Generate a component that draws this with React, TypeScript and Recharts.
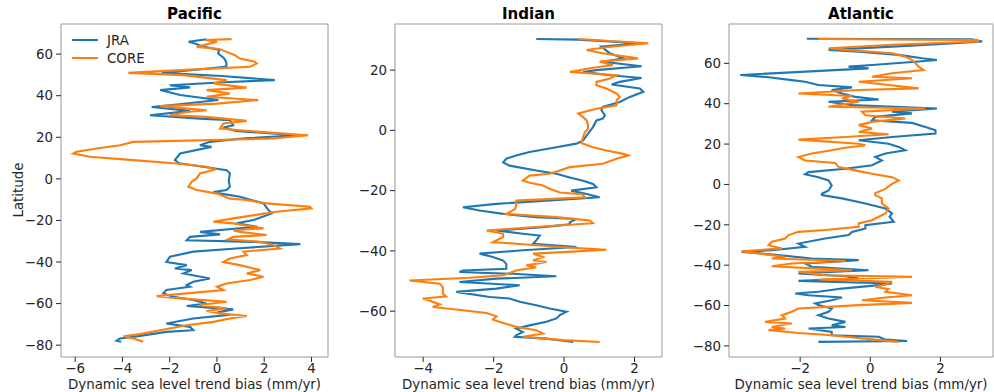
import React from "react";
import { ReferenceArea, Scatter, ScatterChart, XAxis, YAxis } from "recharts";

// [latitude, bias] pairs, north to south
const PACIFIC_JRA: [number, number][] = [
  [67.2, -0.44], [66, -1.2], [65, -0.9], [64, -0.7], [62, 0.1], [60.3, 0.05], [58, 0.3], [56, 0.4], [54, 0.4],
  [53, -0.44], [51, -2.34], [49.5, 0.2], [47.5, 2.45], [46.5, 0.3], [45, -2.0], [44, -1.14], [42.7, -2.4],
  [40.3, -1.56], [37.9, 0.06], [36, -1.5], [34.6, -2.76], [32.7, -1.14], [30.6, -2.83], [29, -0.72],
  [28.2, 0.55], [25.8, 0.69], [24.7, 0.27], [23, 0.8], [21, 3.4], [19.5, 1.2], [17.8, -0.3], [16.2, -0.72],
  [15.4, -0.23], [12.2, -1.56], [9, -1.78], [7.5, -1.6], [4.2, 0.41], [2.6, 0.55], [-1, 0.5], [-3.8, 0.55],
  [-5.4, 0.41], [-6.3, -0.15], [-7, 0.1], [-8.6, 0.97], [-11.8, 1.97], [-15, 2.18], [-16.6, 2.32],
  [-19.8, 1.55], [-21.4, 0.83], [-23, 1.69], [-25.5, -0.72], [-26.7, 0.13], [-27.9, -1.14], [-29.5, -1.28],
  [-30.3, 1.55], [-31.4, 3.53], [-33.5, 0.83], [-35, -1.0], [-37.5, -1.99], [-40, -2.14], [-41.5, -1.28],
  [-43.1, -1.78], [-43.9, -1.07], [-45.5, -1.42], [-47.9, -0.3], [-49.5, -1.0], [-51.1, -1.28],
  [-51.9, -1.14], [-53.5, -2.14], [-55.1, -2.27], [-56.7, -1.85], [-58.3, -1.0], [-60, -0.44],
  [-61.2, -1.28], [-62.8, 0.69], [-64, 0.13], [-65.5, 0.41], [-67.2, -1.0], [-69.6, -2.14], [-71.2, -1.14],
  [-72.8, -1.0], [-73.6, -2.14], [-76, -3.54], [-76.8, -4.1], [-77.9, -4.25], [-78.4, -4.05],
];

const PACIFIC_CORE: [number, number][] = [
  [67.2, 0.62], [66.8, -0.5], [66, 0.0], [63.5, -0.86], [62.5, 0.1], [61.1, 0.41], [59.5, 0.76],
  [57.9, 0.97], [56.3, 1.6], [55.5, 1.68], [53.9, 1.4], [52.8, -0.72], [51, -3.75], [49.9, -1.42],
  [47.5, 0.41], [45.9, -0.15], [43.9, 1.26], [42.7, -0.44], [41.1, 0.55], [39.5, -0.44], [37.9, 1.75],
  [36.2, 0], [35, -2.4], [33, -0.44], [32.2, -1.28], [30.6, -1.99], [29.8, -0.44], [27.9, 1.26],
  [26.6, 0.27], [24.2, 0.13], [23.4, 0.97], [22.1, 2.38], [21, 3.86], [19.4, 2.38], [17.8, -3.54],
  [16.2, -4.1], [14.6, -5.09], [13, -5.94], [12.2, -6.08], [10.6, -5.37], [9, -3.54], [7.4, -1.71],
  [5.8, -0.44], [4.5, -0.08], [3.4, -0.44], [2.6, -0.72], [0.2, -0.86], [-1.4, -1.07], [-3.8, -1.21],
  [-5.4, -0.86], [-7.1, 0], [-9.5, 0.55], [-10.2, 1.26], [-11.8, 2.1], [-13.4, 3.93], [-14.2, 4.0],
  [-15.8, 2.52], [-19, 0.69], [-20.6, -0.15], [-21.4, 0.69], [-23, 1.55], [-23.8, 1.97], [-24.7, 0.69],
  [-25.5, 0.97], [-27, 2.1], [-27.9, 0.69], [-29.1, 0.48], [-30.3, 1.83], [-31.9, 2.38], [-33.5, 2.67],
  [-35, 1.12], [-36.7, 1.26], [-38.3, 0.55], [-40, 0.27], [-41.5, 0.97], [-43.1, 1.55], [-43.9, 1.83],
  [-45.5, 1.26], [-47.1, 1.97], [-48.7, 1.4], [-50.3, 0.41], [-51.9, 0], [-53.5, 0.27], [-55.1, -1.28],
  [-56.4, -2.55], [-57.5, -1.56], [-59.1, 0.41], [-60.7, -0.72], [-62.3, 0.41], [-63.6, -0.44],
  [-64.7, 0.13], [-66, 1.26], [-67.2, 0.55], [-68.8, -0.15], [-70.4, -1.28], [-72.8, -2.41],
  [-74.7, -3.26], [-75.7, -3.96], [-76.8, -3.54], [-78.4, -3.12],
];

const INDIAN_JRA: [number, number][] = [
  [30.3, -0.79], [30.1, 0.4], [28.9, 2.15], [27.8, 1.06], [25.6, 1.3], [23.9, 1.68], [22.8, 1.1],
  [21.3, 2.2], [20, 0.92], [19.4, 0.54], [18.3, 1.3], [17.4, 2.2], [16.1, 1.58], [15.2, 1.35],
  [13.9, 2.15], [12.8, 2.25], [11.1, 1.87], [9.4, 1.58], [7.8, 1.1], [6.7, 1.06], [5, 1.16], [3.9, 1.1],
  [3.3, 0.92], [1.1, 0.82], [-1.1, 0.68], [-3.3, 0.54], [-4.4, 0.35], [-5.6, -0.22], [-7.2, -0.98],
  [-8.3, -1.36], [-9.4, -1.64], [-10.6, -1.73], [-11.7, -1.55], [-13.3, -0.79], [-14.4, -0.22],
  [-15.6, 0.16], [-16.7, 0.54], [-17.8, 0.82], [-18.9, 0.92], [-20, 0.2], [-21.1, 0.64], [-22.2, 1.01],
  [-23.3, -0.5], [-24.4, -1.92], [-25.5, -2.87], [-26.6, -2.4], [-27.7, -1.73], [-28.8, -0.79],
  [-29.4, 0.35], [-30.5, 0.16], [-31.2, 0.16], [-32.1, -0.6], [-33.2, -1.92], [-34.3, -1.17],
  [-34.9, -0.69], [-36.5, -0.79], [-37.6, -0.88], [-38.7, 0.35], [-39.8, -1.17], [-40.9, -2.4],
  [-42, -2.02], [-43.2, -1.73], [-44.3, -1.64], [-45.9, -1.64], [-46.5, -2.87], [-47, -2.97],
  [-47.6, -1.45], [-48.4, -0.22], [-49.2, -1.92], [-50.3, -2.97], [-51.4, -1.26], [-52.5, -1.92],
  [-53.6, -3.06], [-55.3, -2.11], [-55.8, -1.55], [-56.9, -1.26], [-58, -0.79], [-59.1, -0.41],
  [-60.2, 0.07], [-61.3, -0.12], [-62.4, -0.22], [-63.5, -0.5], [-64.7, -0.98], [-65.8, -1.36],
  [-66.9, -1.17], [-68, -1.36], [-68.5, -1.4], [-69.1, -0.5], [-70.2, 0.26],
];

const INDIAN_CORE: [number, number][] = [
  [30.3, 0.4], [28.9, 2.39], [27.6, 1.2], [26.7, 0.64], [25.6, 1.1], [23.9, 2.1], [22.8, 1.01],
  [21.7, 1.39], [20.6, 0.73], [19.4, 0.16], [18.3, 1.49], [17.2, 1.3], [16.1, 0.92], [15, 0.92],
  [13.9, 1.2], [12.2, 1.49], [11.1, 1.58], [10, 1.49], [8.3, 1.49], [7.2, 0.92], [5.6, 0.4], [4.4, 0.54],
  [3.3, 0.64], [1.7, 0.68], [0.6, 0.68], [-0.6, 0.59], [-2.2, 0.54], [-4.2, 0.49], [-5.6, 0.82],
  [-6.7, 1.2], [-7.8, 1.68], [-8.3, 1.82], [-9.4, 1.49], [-11.1, 1.1], [-12.2, 0.16], [-13.3, -0.12],
  [-14.4, -0.41], [-15, -0.98], [-16.7, -1.17], [-17.3, -1.0], [-18.3, -0.6], [-19.4, -0.41],
  [-20.6, -0.12], [-21.2, 0.5], [-22.2, 0.6], [-23.3, -1.36], [-25, -1.36], [-26.2, -1.4], [-27.7, -1.64],
  [-28.8, -0.22], [-29.9, 0.73], [-30.8, 0.82], [-31.9, -0.6], [-33.2, -2.2], [-34.3, -1.73],
  [-35.4, -1.73], [-37.1, -2.02], [-37.6, -1.36], [-38.7, -0.12], [-39.6, 1.2], [-40.4, -0.03],
  [-40.9, -0.88], [-42, -0.6], [-43.2, -0.88], [-43.7, -0.5], [-44.8, -1.07], [-45.4, -0.79],
  [-46.5, -1.36], [-48.1, -1.73], [-48.9, -2.68], [-49.8, -4.39], [-50.9, -3.53], [-52, -3.44],
  [-53.1, -3.44], [-54.2, -3.44], [-55.1, -3.35], [-55.8, -4.01], [-56.9, -3.73], [-57.7, -3.53],
  [-58.6, -3.73], [-59.7, -2.87], [-60.6, -2.2], [-61.7, -1.92], [-62.8, -2.02], [-63.9, -1.73],
  [-65.2, -1.36], [-66.3, -0.79], [-67.4, -0.6], [-68.5, -1.17], [-69.6, -0.03], [-70.2, 1.01],
];

const ATLANTIC_JRA: [number, number][] = [
  [72.2, -1.81], [71.9, 2.9], [70.8, 3.19], [69.7, 2.19], [68.3, 0.62], [66.7, -1.19], [65.8, -0.33],
  [64.2, 0.81], [62.5, 1.48], [61.7, 1.9], [60.9, 1.38], [59.2, 0.05], [58.4, -0.62], [57.5, -0.05],
  [56.4, -1.29], [54.2, -3.71], [53.1, -2.9], [51.7, -2.24], [50.9, -1.86], [49.3, -1.48], [48.1, -0.52],
  [46.8, -1.1], [45.1, -0.81], [43.4, -0.43], [42.1, 0.24], [41, -1.19], [39.3, -0.52], [37.6, 1.9],
  [36, 0.62], [35.2, 1.19], [33.5, 0.14], [31.8, 0.05], [30.5, 1.19], [28.5, 1.57], [26.9, 1.86],
  [25.2, 1.86], [23.5, 0.62], [21.9, -0.33], [20.2, 0.52], [18.6, 0.81], [16.9, 1.0], [15.3, 0.43],
  [13.6, 0.14], [11.9, 0.33], [9.5, 0.05], [7.8, -0.71], [6.1, -1.76], [5, -1.86], [3.6, -1.48],
  [2, -1.19], [-0.5, -1.1], [-3, -1.19], [-4.6, -1.38], [-5.3, -1.38], [-6.9, -0.81], [-9.4, -0.14],
  [-11.9, 0.43], [-14.4, 0.62], [-16, 0.55], [-18.5, 0.67], [-20.2, -0.14], [-21.8, -0.14],
  [-23.5, -0.52], [-25.1, -0.62], [-26.8, -1.29], [-29.3, -2.05], [-30.9, -1.86], [-32.6, -2.81],
  [-33.4, -3.67], [-35, -2.62], [-36.7, -1.67], [-37.5, -0.33], [-39.2, -1.86], [-40.8, -1.67],
  [-42.5, -0.05], [-44.1, -2.05], [-45.5, -0.71], [-46.6, -0.33], [-47.8, -2.05], [-49.1, 0.62],
  [-49.9, 0.24], [-51.6, -0.81], [-53.2, -1.48], [-54, -2.14], [-54.9, -1.76], [-56, -0.81],
  [-57.4, -1.1], [-59, -1.57], [-59.8, -1.48], [-61.5, -1.1], [-63.1, -1.19], [-64.8, -1.48],
  [-66.4, -1.19], [-68.1, -0.71], [-69.8, -1.1], [-70.6, -0.71], [-71.4, -1.76], [-73.1, -1.1],
  [-74.7, -1.1], [-75.5, 0.24], [-76.9, 0.43], [-77.6, 1.05], [-78, -1.48],
];

const ATLANTIC_CORE: [number, number][] = [
  [72.1, -1.48], [71.6, 3.0], [70.8, 3.1], [69.2, 0.62], [67.5, -1.19], [66.7, -0.71], [65, 0.62],
  [63.3, 1.0], [61.7, 1.19], [60, 1.29], [58.4, 1.38], [56.7, 1.52], [55.1, 0.62], [53.4, 0.05],
  [52.6, 1.19], [50.9, -0.33], [49.3, 0.52], [47.6, 1.38], [46.8, -0.33], [45.1, -2.05], [43.8, -0.52],
  [42.6, -0.81], [41, -0.33], [39.3, -0.9], [38.5, -1.19], [37.6, 1.57], [36, -0.24], [34.3, -0.14],
  [32.7, 1.0], [31, 0.05], [29.4, -0.33], [27.7, 0.05], [26, -0.33], [24.9, 0.52], [23.5, -0.71],
  [22.2, -2.05], [20.2, -0.33], [19.4, -0.14], [18.2, -0.71], [16.9, -1.1], [15.3, -1.67],
  [13.6, -2.05], [11.9, -1.86], [10.6, -1.0], [8.6, -0.9], [6.6, -0.33], [5.3, 0.05], [3.6, 0.62],
  [2, 0.81], [0.3, 0.62], [-2.2, 0.43], [-4.3, 0.14], [-5.3, 0.14], [-6.9, 0.33], [-9.4, 0.33],
  [-11.9, 0.52], [-14.4, 0.43], [-16, 0.24], [-17.7, 0.05], [-19.3, -0.33], [-21, -0.33],
  [-22.6, -1.29], [-23.5, -2.05], [-25.1, -2.33], [-26.8, -2.43], [-28.4, -2.81], [-30.1, -2.9],
  [-31.7, -2.52], [-33.1, -3.67], [-34.2, -3.19], [-35.9, -2.43], [-36.7, -2.81], [-37.9, -0.71],
  [-39.2, -2.24], [-40.5, -2.81], [-41.7, -1.48], [-42.5, -0.52], [-43.3, -2.05], [-45, -1.29],
  [-45.8, 1.19], [-47.1, -1.48], [-48.3, 0.62], [-49.6, 0.43], [-50.7, 0.14], [-51.9, 0.52],
  [-53.2, 0.43], [-54.9, 1.19], [-56, 0.43], [-57.4, -0.24], [-58.7, 1.19], [-59.8, -0.33],
  [-61.5, -2.05], [-63.1, -2.24], [-64.8, -2.52], [-66.4, -2.43], [-68.1, -3.0], [-68.9, -2.24],
  [-70.6, -2.81], [-71.4, -2.43], [-72.2, -2.9], [-73.6, -2.05], [-74.7, -1.1], [-75.5, -0.71],
  [-76.9, 0.14], [-78, 0.81],
];

const PACIFIC_X_TICKS = [-6, -4, -2, 0, 2, 4];
const PACIFIC_Y_TICKS = [-80, -60, -40, -20, 0, 20, 40, 60];
const INDIAN_X_TICKS = [-4, -2, 0, 2];
const INDIAN_Y_TICKS = [-60, -40, -20, 0, 20];
const ATLANTIC_X_TICKS = [-2, 0, 2];
const ATLANTIC_Y_TICKS = [-80, -60, -40, -20, 0, 20, 40, 60];

const JRA_COLOR = "#1f77b4";
const CORE_COLOR = "#ff7f0e";
const FONT = "'DejaVu Sans', sans-serif";
const TEXT = "#262626";
const FS = 13.4;
const H = 392;
const PLOT_TOP = 24;
const PLOT_BOTTOM = 357;

const toPoints = (rows: [number, number][]) => rows.map(([lat, bias]) => ({ lat, bias }));

interface PanelProps {
  title: string;
  left: number;
  width: number;
  plotLeft: number;
  plotRight: number;
  xDomain: [number, number];
  yDomain: [number, number];
  xTicks: number[];
  yTicks: number[];
  jra: [number, number][];
  core: [number, number][];
}

const fmt = (v: number) => (v < 0 ? `\u2212${Math.abs(v)}` : `${v}`);

function Panel(p: PanelProps) {
  const tickStyle = { fill: TEXT, fontSize: FS, fontFamily: FONT };
  return (
    <div style={{ position: "absolute", left: p.left, top: 0 }}>
      <ScatterChart
        width={p.width}
        height={H}
        margin={{ top: PLOT_TOP, right: p.width - (p.plotRight - p.left), bottom: 0, left: 0 }}
      >
        <XAxis
          type="number"
          dataKey="bias"
          domain={p.xDomain}
          ticks={p.xTicks}
          allowDataOverflow
          height={H - PLOT_BOTTOM}
          axisLine={false}
          tickLine={{ stroke: TEXT }}
          tickSize={5}
          tickMargin={1}
          tick={tickStyle}
          tickFormatter={fmt}
          label={{
            value: "Dynamic sea level trend bias (mm/yr)",
            position: "insideBottom",
            offset: 3,
            fill: TEXT,
            fontSize: FS,
            fontFamily: FONT,
          }}
        />
        <YAxis
          type="number"
          dataKey="lat"
          domain={p.yDomain}
          ticks={p.yTicks}
          allowDataOverflow
          width={p.plotLeft - p.left}
          axisLine={false}
          tickLine={{ stroke: TEXT }}
          tickSize={5}
          tickMargin={3}
          tick={tickStyle}
          tickFormatter={fmt}
        />
        <ReferenceArea
          x1={p.xDomain[0]}
          x2={p.xDomain[1]}
          y1={p.yDomain[0]}
          y2={p.yDomain[1]}
          fill="none"
          stroke="#999999"
          strokeWidth={1}
          ifOverflow="visible"
        />
        <Scatter
          data={toPoints(p.jra)}
          line={{ stroke: JRA_COLOR, strokeWidth: 2.1 }}
          lineJointType="linear"
          shape={() => <g />}
          isAnimationActive={false}
        />
        <Scatter
          data={toPoints(p.core)}
          line={{ stroke: CORE_COLOR, strokeWidth: 2.1 }}
          lineJointType="linear"
          shape={() => <g />}
          isAnimationActive={false}
        />
      </ScatterChart>
      <div
        style={{
          position: "absolute",
          top: 5,
          left: p.plotLeft - p.left,
          width: p.plotRight - p.plotLeft,
          textAlign: "center",
          fontFamily: FONT,
          fontWeight: "bold",
          fontSize: 15,
          lineHeight: "18px",
          color: "#000",
        }}
      >
        {p.title}
      </div>
    </div>
  );
}

function Legend() {
  const items = [
    { name: "JRA", color: JRA_COLOR },
    { name: "CORE", color: CORE_COLOR },
  ];
  return (
    <div style={{ position: "absolute", left: 72, top: 31 }}>
      {items.map((it) => (
        <div key={it.name} style={{ display: "flex", alignItems: "center", height: 18 }}>
          <div style={{ width: 26, height: 2, background: it.color }} />
          <span style={{ marginLeft: 9, fontFamily: FONT, fontSize: FS, color: TEXT }}>{it.name}</span>
        </div>
      ))}
    </div>
  );
}

export default function App() {
  return (
    <div style={{ position: "fixed", left: 0, top: 0, width: 994, height: H, background: "#fff" }}>
      <Panel
        title="Pacific"
        left={0}
        width={340}
        plotLeft={61}
        plotRight={328}
        xDomain={[-6.6, 4.7]}
        yDomain={[-85.7, 74.5]}
        xTicks={PACIFIC_X_TICKS}
        yTicks={PACIFIC_Y_TICKS}
        jra={PACIFIC_JRA}
        core={PACIFIC_CORE}
      />
      <Panel
        title="Indian"
        left={335}
        width={335}
        plotLeft={395}
        plotRight={662}
        xDomain={[-4.8, 2.78]}
        yDomain={[-75.2, 35.3]}
        xTicks={INDIAN_X_TICKS}
        yTicks={INDIAN_Y_TICKS}
        jra={INDIAN_JRA}
        core={INDIAN_CORE}
      />
      <Panel
        title="Atlantic"
        left={665}
        width={329}
        plotLeft={729}
        plotRight={993}
        xDomain={[-4.03, 3.5]}
        yDomain={[-85.5, 79.5]}
        xTicks={ATLANTIC_X_TICKS}
        yTicks={ATLANTIC_Y_TICKS}
        jra={ATLANTIC_JRA}
        core={ATLANTIC_CORE}
      />
      <Legend />
      <div
        style={{
          position: "absolute",
          left: 18,
          top: 190,
          transform: "translate(-50%, -50%) rotate(-90deg)",
          fontFamily: FONT,
          fontSize: FS,
          color: TEXT,
          whiteSpace: "nowrap",
        }}
      >
        Latitude
      </div>
    </div>
  );
}
